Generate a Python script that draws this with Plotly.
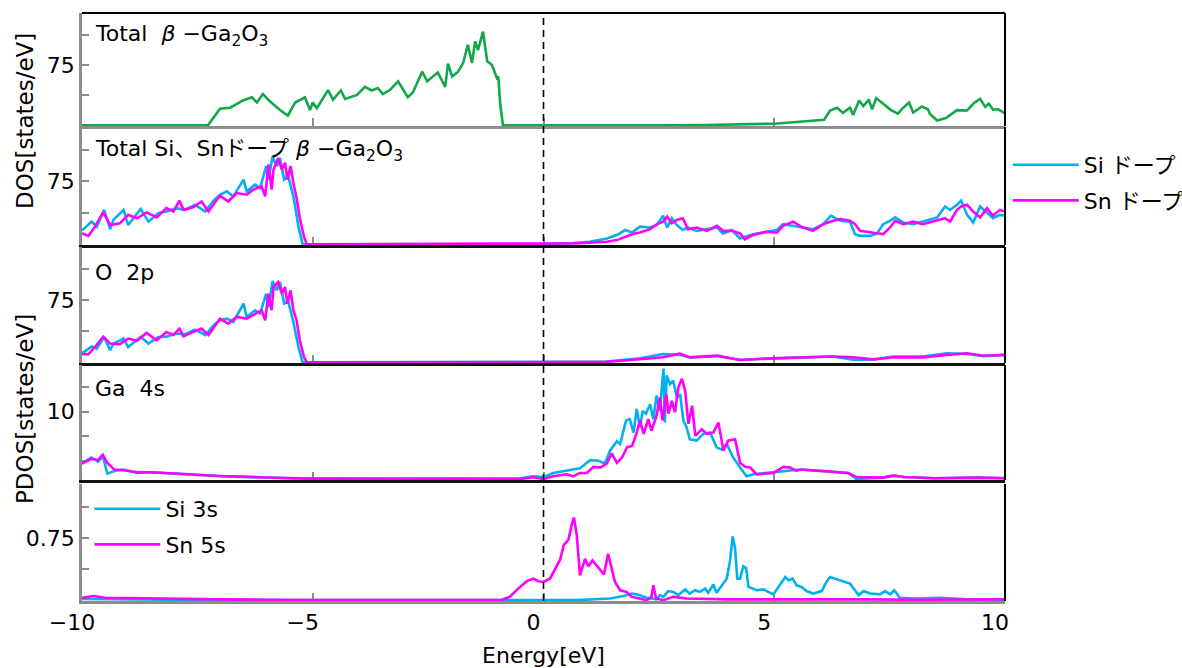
import plotly.graph_objects as go
from plotly.subplots import make_subplots

# ---------------- data ----------------
# Panel 1: Total beta-Ga2O3
e_total = [-10, -7.27, -7.01, -6.79, -6.51, -6.32, -6.21, -6.08, -5.93, -5.71, -5.54, -5.38, -5.17, -5.06, -5.0,
           -4.91, -4.67, -4.56, -4.39, -4.30, -4.04, -3.87, -3.72, -3.59, -3.48, -3.33, -3.15, -3.07, -2.94, -2.83,
           -2.63, -2.52, -2.39, -2.29, -2.13, -2.07, -1.98, -1.85, -1.74, -1.64, -1.55, -1.48, -1.42, -1.31, -1.22,
           -1.12, -1.01, -0.98, -0.94, -0.88, 2.5, 3.48, 5.0, 5.65, 6.08, 6.21, 6.36, 6.49, 6.64, 6.71, 6.84, 6.93,
           7.05, 7.12, 7.21, 7.36, 7.53, 7.68, 7.77, 7.92, 8.01, 8.2, 8.33, 8.37, 8.53, 8.72, 8.96, 9.18, 9.33, 9.46,
           9.57, 9.65, 9.74, 9.85, 10.0]
dos_total = [0, 0, 20.6, 22, 31, 35, 28.5, 39, 30, 19, 12, 28.5, 35, 19, 28.5,
             21.5, 44, 32, 43.5, 33, 38, 48, 43.5, 46.5, 39, 44, 55, 48, 35, 41,
             67, 55, 61, 66, 48, 77, 61, 67, 78, 100.6, 78, 105, 94, 117, 80,
             75.6, 59, 61, 28, 0, 0, 0.3, 2, 4.5, 7, 18.5, 22, 15.5, 22, 13, 31, 24,
             32, 20, 34, 27, 19, 14.5, 20.5, 28.5, 16, 23.5, 20, 14.5, 6, 9, 19, 18.5, 28, 33,
             23, 27, 19.5, 20, 15]

# Panels 2 and 3: Si doped (blue), valence-band side
e_si = [-10.0, -9.97, -9.79, -9.68, -9.52, -9.39, -9.32, -9.1, -9.0, -8.73, -8.56, -8.35, -8.17, -7.95, -7.77,
        -7.55, -7.33, -7.15, -7.01, -6.86, -6.72, -6.5, -6.43, -6.25, -6.14, -6.01, -5.96, -5.87, -5.78, -5.71,
        -5.62, -5.53, -5.42, -5.31, -5.22]
dos_si_left = [17, 18, 27, 21, 41, 18, 29, 41, 23, 42, 27, 37, 39, 43, 41,
               47, 39, 52, 59, 63, 57, 77, 63, 71, 67, 93, 77, 104.5, 93, 102.6,
               77, 81, 57, 21, 0]
o2p_si_left = [12, 12, 19, 16.5, 30.6, 14.5, 22.6, 28.7, 18.5, 30.6, 22.6, 30.6, 31, 34.7, 34,
               39.5, 33, 44.7, 50.8, 52.8, 48.7, 71, 54.8, 62.9, 58.9, 83, 66.9, 98.3, 87, 97.1,
               71, 73, 48.7, 18.5, 0]

# Sn doped (magenta), valence-band side
e_sn = [-10, -9.86, -9.72, -9.54, -9.39, -9.18, -9.0, -8.81, -8.6, -8.38, -8.17, -8.02, -7.89, -7.80, -7.59,
        -7.41, -7.26, -7.01, -6.83, -6.65, -6.43, -6.29, -6.11, -6.03, -5.96, -5.89, -5.85, -5.75, -5.67, -5.60,
        -5.55, -5.48, -5.42, -5.35, -5.28, -5.19, -5.13]
dos_sn_left = [13, 10, 21, 38, 23, 25, 35, 31, 38, 32, 43, 39, 52, 41, 44,
               51, 39, 58, 51, 61, 59, 65, 69, 57, 95, 65, 89, 102.6, 89, 97,
               77, 93, 73, 55, 31, 9, 0]
o2p_sn_left = [9.7, 9.7, 18.5, 31, 22.6, 22, 28.7, 26, 35.5, 26.6, 36.7, 33, 40.7, 31.4, 36.7,
               40.7, 33, 52.8, 46.8, 54.8, 52.8, 56.8, 62.9, 50.8, 83, 62.9, 91, 97.1, 83, 91,
               71, 87, 62.9, 50.8, 26.6, 6.5, 0]

# Conduction-band side of total DOS (panel 2)
e_cb = [-0.08, 0.64, 1.0, 1.37, 1.59, 1.77, 1.92, 2.09, 2.31, 2.46, 2.59, 2.68, 2.78, 2.89, 3.02, 3.13, 3.32,
        3.54, 3.76, 3.89, 4.08, 4.26, 4.36, 4.54, 4.84, 5.06, 5.19, 5.41, 5.62, 5.84, 6.06, 6.23, 6.43, 6.64,
        6.75, 6.86, 7.08, 7.23, 7.36, 7.51, 7.62, 7.79, 8.01, 8.22, 8.53, 8.70, 8.81, 8.96, 9.05, 9.18, 9.31,
        9.46, 9.61, 9.74, 9.89, 10.0]
dos_si_right = [0, 1.5, 3, 7, 11, 17, 14, 21, 20, 23, 34, 20, 31, 23, 17, 20, 16,
                18, 20, 13, 17, 7, 9, 12, 15, 17, 24, 22, 20, 18, 24, 34, 28, 27,
                12, 10, 10, 13, 24, 28, 32, 26, 24, 27, 32, 45, 41, 47, 52, 35, 26,
                45, 38, 31, 35, 34]
dos_sn_right = [0.3, 1, 2, 3, 5, 9, 12, 14, 18, 24, 27, 33, 25, 29, 31, 18, 20,
                16, 22, 16, 16, 13, 6, 11, 15, 14, 22, 27, 20, 16, 24, 27, 30, 28,
                24, 16, 14, 13, 12, 20, 28, 24, 27, 24, 28, 31, 27, 41, 45, 47, 39,
                32, 43, 34, 41, 39]

# Conduction-band side of O 2p (panel 3)
e_o2p_cb = [-0.5, 1.0, 1.37, 2.09, 2.59, 2.95, 3.17, 3.76, 4.26, 4.97, 5.71, 6.27, 6.71, 7.14, 7.58, 8.22,
            8.74, 9.18, 9.53, 10.0]
o2p_si_right = [0, 0.3, 0.8, 4.8, 10, 9, 6, 7.5, 2.8, 4.8, 6, 7, 3, 3, 7, 7, 11, 10, 7.5, 9]
o2p_sn_right = [0, 0.3, 0.6, 3.6, 6, 10.5, 6, 8, 2.8, 4.8, 6, 7, 6, 3.6, 6, 6, 9, 11, 8, 9]

# Panel 4: Ga 4s
e_ga_si = [-10, -9.8, -9.65, -9.55, -9.45, -9.3, -9.1, -8.8, -8.5, -8.0, -7.5, -7.0, -6.5, -6.0, -5.5, -5.0,
           -1.0, -0.51, -0.22, 0.0, 0.21, 0.57, 0.79, 1.01, 1.19, 1.33, 1.44, 1.59, 1.66, 1.79, 1.87, 1.95,
           2.02, 2.09, 2.15, 2.22, 2.31, 2.38, 2.45, 2.52, 2.60, 2.63, 2.67, 2.74, 2.81, 2.89, 2.96, 3.03,
           3.10, 3.17, 3.32, 3.46, 3.61, 3.75, 3.86, 3.97, 4.11, 4.26, 4.40, 4.55, 4.84, 5.13, 5.41, 5.56,
           6.03, 6.6, 6.78, 7.35, 7.58, 7.81, 8.48, 9.41, 10]
ga_si = [2.3, 3.2, 2.6, 3.4, 0.8, 1.2, 1.4, 0.9, 1.0, 0.8, 0.5, 0.4, 0.3, 0.2, 0.1, 0.05,
         0.05, 0.1, 0.4, 0.3, 0.9, 1.4, 1.6, 2.8, 2.7, 2.3, 4.2, 5.6, 5.2, 8.7, 8.9, 6.9,
         10.4, 7.7, 10.1, 9.7, 11.1, 8.9, 12.4, 10.1, 16.4, 8.4, 15.4, 14.1, 14.6, 12.1, 12.6, 8.7,
         7.7, 5.9, 5.7, 6.7, 6.9, 4.7, 4.4, 5.2, 3.2, 1.7, 0.4, 0.7, 0.9, 1.2, 1.4, 1.4,
         1.2, 0.9, 0.0, 0.2, 0.5, 0.3, 0.1, 0.2, 0.1]
e_ga_sn = [-10, -9.8, -9.65, -9.55, -9.45, -9.3, -9.1, -8.8, -8.5, -8.0, -7.5, -7.0, -6.5, -6.0, -5.5, -5.0,
           -1.0, -0.51, -0.22, 0.0, 0.21, 0.5, 0.64, 0.79, 0.94, 1.08, 1.23, 1.37, 1.48, 1.59, 1.7, 1.81,
           1.92, 2.02, 2.09, 2.17, 2.27, 2.34, 2.45, 2.52, 2.58, 2.66, 2.71, 2.78, 2.85, 2.92, 3.0, 3.07,
           3.14, 3.22, 3.29, 3.43, 3.54, 3.68, 3.79, 3.9, 4.0, 4.15, 4.26, 4.37, 4.48, 4.62, 4.98, 5.2,
           5.34, 5.48, 5.56, 6.03, 6.6, 6.78, 7.35, 7.58, 7.81, 8.48, 9.41, 10]
ga_sn = [2.3, 3.0, 2.8, 3.6, 2.4, 1.4, 1.3, 1.0, 1.0, 0.8, 0.6, 0.45, 0.35, 0.2, 0.1, 0.05,
         0.05, 0.0, 0.25, 0.0, 0.4, 0.7, 0.4, 0.9, 0.9, 1.8, 1.7, 2.3, 3.8, 2.4, 3.2, 4.7,
         4.9, 6.9, 8.7, 6.7, 8.9, 7.2, 9.4, 12.1, 8.7, 12.6, 9.7, 11.6, 9.9, 13.6, 14.9, 13.1,
         8.2, 10.9, 6.4, 7.4, 6.7, 6.9, 8.4, 4.2, 5.7, 5.9, 2.4, 1.8, 1.7, 0.7, 0.9, 1.8,
         1.7, 1.2, 1.4, 1.2, 0.9, 0.3, 0.2, 0.5, 0.3, 0.1, 0.2, 0.1]

# Panel 5: dopant s states
e_sn5s = [-10, -9.75, -9.5, -9.0, -8.0, -7.0, -6.0, -5.0, -1.0, -0.94, -0.73, -0.55, -0.36, -0.22, -0.11, 0.0,
          0.14, 0.25, 0.36, 0.44, 0.54, 0.61, 0.66, 0.72, 0.79, 0.9, 0.97, 1.06, 1.19, 1.31, 1.40, 1.48, 1.55,
          1.66, 1.80, 1.91, 2.09, 2.24, 2.34, 2.38, 2.44, 2.60, 2.81, 3.10, 4.0, 5.0, 6.06, 7.0, 8.0, 9.0, 10.0]
sn5s = [0.03, 0.05, 0.03, 0.025, 0.02, 0.01, 0.005, 0.0, 0.0, 0.0, 0.04, 0.14, 0.23, 0.26, 0.23, 0.22,
        0.26, 0.37, 0.49, 0.67, 0.73, 0.91, 1.0, 0.79, 0.30, 0.5, 0.41, 0.48, 0.39, 0.31, 0.56, 0.39, 0.22,
        0.12, 0.10, 0.04, 0.02, 0.0, 0.04, 0.18, 0.02, 0.0, 0.04, 0.02, 0.01, 0.01, 0.015, 0.01, 0.005, 0.01, 0.01]
e_si3s = [-10, -9, -8, -5, 0.72, 1.44, 1.73, 1.91, 2.02, 2.24, 2.45, 2.52, 2.6, 2.70, 2.81, 2.92, 3.07, 3.17,
          3.28, 3.39, 3.50, 3.57, 3.68, 3.75, 3.86, 3.97, 4.04, 4.10, 4.15, 4.20, 4.26, 4.33, 4.39, 4.44, 4.62,
          4.76, 4.98, 5.13, 5.24, 5.31, 5.40, 5.48, 5.59, 5.70, 5.84, 6.03, 6.13, 6.21, 6.32, 6.50, 6.64, 6.75,
          6.83, 6.93, 7.08, 7.29, 7.40, 7.51, 7.60, 7.72, 8.09, 8.59, 9.17, 9.89, 10]
si3s = [0.015, 0.01, 0.005, 0.0, 0.0, 0.02, 0.05, 0.08, 0.07, 0.03, 0.01, 0.06, 0.04, 0.11, 0.10, 0.06, 0.13, 0.08,
        0.12, 0.10, 0.14, 0.09, 0.19, 0.09, 0.18, 0.26, 0.47, 0.77, 0.63, 0.26, 0.26, 0.41, 0.39, 0.16, 0.12,
        0.13, 0.07, 0.20, 0.28, 0.24, 0.26, 0.18, 0.16, 0.11, 0.08, 0.11, 0.22, 0.28, 0.26, 0.23, 0.20, 0.12,
        0.06, 0.11, 0.08, 0.07, 0.11, 0.07, 0.12, 0.03, 0.02, 0.03, 0.01, 0.0, 0.0]

x_ticks = [-10, -5, 0, 5, 10]
panel_labels = ["Total  <i>β</i> −Ga<sub>2</sub>O<sub>3</sub>",
                "Total Si、Snドープ <i>β</i> −Ga<sub>2</sub>O<sub>3</sub>",
                "O  2p", "Ga  4s", ""]
y_label_vals = [75, 75, 75, 10, 0.75]
y_label_text = ["75", "75", "75", "10", "0.75"]
y_minor_start = [0, 0, 0, 10, 0]
y_minor_step = [37.5, 37.5, 37.5, 3.63, 0.375]

# ---------------- styling ----------------
GREEN = "#12a84a"
BLUE = "#00b0f0"
MAG = "#ff00ff"
GREY = "#8c8c8c"
FONT = "DejaVu Sans, Noto Sans CJK JP, sans-serif"

fig = make_subplots(rows=5, cols=1, shared_xaxes=True, vertical_spacing=0.0)

lw = 2.6
fig.add_trace(go.Scatter(x=e_total, y=dos_total, mode="lines", line=dict(color=GREEN, width=lw),
                         showlegend=False), row=1, col=1)

fig.add_trace(go.Scatter(x=e_si + e_cb, y=dos_si_left + dos_si_right, mode="lines",
                         line=dict(color=BLUE, width=lw), name="Si ドープ", legendgroup="si"), row=2, col=1)
fig.add_trace(go.Scatter(x=e_sn + e_cb, y=dos_sn_left + dos_sn_right, mode="lines",
                         line=dict(color=MAG, width=lw), name="Sn ドープ", legendgroup="sn"), row=2, col=1)

fig.add_trace(go.Scatter(x=e_si + e_o2p_cb, y=o2p_si_left + o2p_si_right, mode="lines",
                         line=dict(color=BLUE, width=lw), showlegend=False), row=3, col=1)
fig.add_trace(go.Scatter(x=e_sn + e_o2p_cb, y=o2p_sn_left + o2p_sn_right, mode="lines",
                         line=dict(color=MAG, width=lw), showlegend=False), row=3, col=1)

fig.add_trace(go.Scatter(x=e_ga_si, y=ga_si, mode="lines", line=dict(color=BLUE, width=lw),
                         showlegend=False), row=4, col=1)
fig.add_trace(go.Scatter(x=e_ga_sn, y=ga_sn, mode="lines", line=dict(color=MAG, width=lw),
                         showlegend=False), row=4, col=1)

fig.add_trace(go.Scatter(x=e_si3s, y=si3s, mode="lines", line=dict(color=BLUE, width=lw),
                         name="Si 3s", legend="legend2", legendgroup="si3s"), row=5, col=1)
fig.add_trace(go.Scatter(x=e_sn5s, y=sn5s, mode="lines", line=dict(color=MAG, width=lw),
                         name="Sn 5s", legend="legend2", legendgroup="sn5s"), row=5, col=1)

# panel geometry (pixel rows 13..601 of the plot area)
H0, H1 = 13, 601
panel_px = [(13, 126), (127, 245), (247, 363), (365, 480), (484, 601)]
y_ranges = [(-0.9, 140.35), (-0.83, 139.6), (-0.85, 139.4), (-0.15, 16.94), (-0.01, 1.405)]
xline_colors = [GREY, "#111111", "#111111", "#111111", GREY]
label_y = [0.805, 0.805, 0.776, 0.8, 0.8]

for i in range(5):
    top, bot = panel_px[i]
    dom = [(H1 - bot) / (H1 - H0), (H1 - top) / (H1 - H0)]
    ax = "" if i == 0 else str(i + 1)
    fig.layout["yaxis" + ax].update(
        domain=dom, range=list(y_ranges[i]), tickmode="array",
        tickvals=[y_label_vals[i]], ticktext=[y_label_text[i]],
        ticks="inside", ticklen=7, tickwidth=1.5, tickcolor=GREY,
        minor=dict(tickmode="linear", tick0=y_minor_start[i], dtick=y_minor_step[i],
                   ticks="inside", ticklen=7, tickwidth=1.5, tickcolor=GREY, showgrid=False),
        showline=True, linecolor=GREY, linewidth=2.5, showgrid=False, zeroline=False,
        layer="below traces", tickfont=dict(size=22, family=FONT, color="black"))
    fig.layout["xaxis" + ax].update(
        range=[-10, 10], tickmode="array", tickvals=x_ticks, ticks="inside", ticklen=8, tickwidth=1.5,
        tickcolor=GREY, showline=True, linecolor=xline_colors[i], linewidth=2.5, showgrid=False,
        zeroline=False, layer="below traces", showticklabels=(i == 4),
        tickfont=dict(size=22, family=FONT, color="black"))
    fig.add_shape(type="line", xref=f"x{ax} domain", yref=f"y{ax} domain", x0=1, x1=1, y0=0, y1=1,
                  line=dict(color="black", width=2))
    if panel_labels[i]:
        fig.add_annotation(text=panel_labels[i], xref=f"x{ax} domain", yref=f"y{ax} domain",
                           x=0.012, y=label_y[i], xanchor="left", yanchor="middle", showarrow=False,
                           font=dict(size=22, family=FONT, color="black"))

fig.add_shape(type="line", xref="x domain", yref="y domain", x0=0, x1=1, y0=1, y1=1,
              line=dict(color="black", width=2))

# Fermi level dashed line
fig.add_shape(type="line", xref="x5", yref="paper", x0=0, x1=0, y0=0, y1=1,
              line=dict(color="black", width=1.6, dash="7px,5px"))

fig.layout.xaxis5.update(ticklabelshift=-10, ticklabelstandoff=0,
                         title=dict(text="Energy[eV]", font=dict(size=22, family=FONT, color="black"),
                                    standoff=20))

fig.add_annotation(text="DOS[states/eV]", xref="paper", yref="paper", x=(25 - 82) / 923,
                   y=(601 - 121) / 588, textangle=-90, showarrow=False, xanchor="center", yanchor="middle",
                   font=dict(size=23, family=FONT, color="black"))
fig.add_annotation(text="PDOS[states/eV]", xref="paper", yref="paper", x=(25 - 82) / 923,
                   y=(601 - 409) / 588, textangle=-90, showarrow=False, xanchor="center", yanchor="middle",
                   font=dict(size=23, family=FONT, color="black"))

fig.update_layout(
    width=1182, height=668, autosize=False,
    margin=dict(l=82, r=177, t=13, b=67, autoexpand=False),
    paper_bgcolor="white", plot_bgcolor="white",
    font=dict(family=FONT, size=22, color="black"),
    legend=dict(x=1.003, y=(601 - 144) / 588, xanchor="left", yanchor="top", itemwidth=66,
                bgcolor="rgba(0,0,0,0)", tracegroupgap=4, font=dict(size=22, family=FONT)),
    legend2=dict(x=0.008, y=(601 - 488) / 588, xanchor="left", yanchor="top", itemwidth=66,
                 bgcolor="rgba(0,0,0,0)", tracegroupgap=4, font=dict(size=22, family=FONT)),
)

fig.write_html("out.html", config={"displayModeBar": False, "responsive": False},
               post_script="document.body.style.margin='0px';document.body.style.overflow='hidden';")
